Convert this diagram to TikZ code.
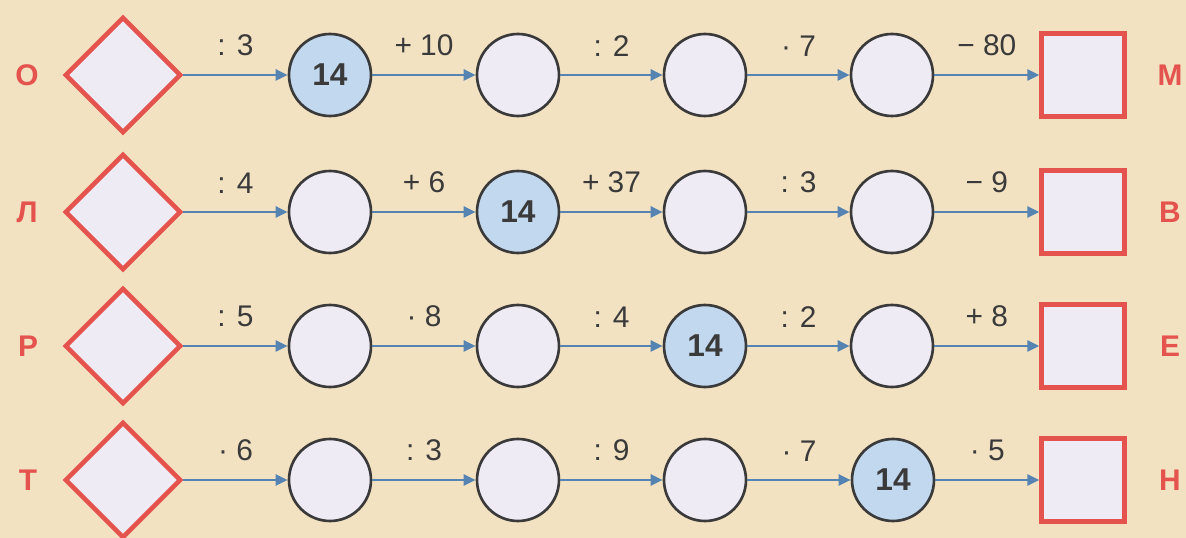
\documentclass[tikz,border=0pt]{standalone}
\usepackage{fontspec}
\setmainfont{Liberation Sans}
\usepackage{xcolor}
\definecolor{cBack}{HTML}{F3E2C2}
\definecolor{cRed}{HTML}{E5534E}
\definecolor{cLine}{HTML}{5584B3}
\definecolor{cRing}{HTML}{3A3A3A}
\definecolor{cFill}{HTML}{EEEBF4}
\definecolor{cGiven}{HTML}{C2D8EE}
\definecolor{cText}{HTML}{3A3A3A}
\usepackage{tikz}
\usetikzlibrary{arrows.meta,shapes.geometric}
\tikzset{
  node-rhomb/.style={diamond,draw=cRed,line width=2.6pt,fill=cFill,
    inner sep=0pt,minimum width=23.2mm,minimum height=23.2mm},
  node-ring/.style={circle,draw=cRing,line width=1.5pt,fill=cFill,
    minimum size=16.4mm,inner sep=0pt,text=cText,
    font=\bfseries\fontsize{18}{18}\selectfont},
  node-given/.style={node-ring,fill=cGiven},
  node-box/.style={rectangle,draw=cRed,line width=2.4pt,fill=cFill,
    minimum size=16.6mm,inner sep=0pt},
  node-letter/.style={text=cRed,font=\bfseries\fontsize{17}{17}\selectfont},
  arrow/.style={-{Triangle[length=2.4mm,width=2.2mm]},line width=1.5pt,draw=cLine},
  op/.style={above=3.5mm,text=cText,inner sep=0pt,
    font=\fontsize{17}{17}\selectfont},
}

\begin{document}
\begin{tikzpicture}[x=0.2mm,y=-0.2mm]
  \fill[cBack] (0,0) rectangle (1186,538);
  \useasboundingbox (0,0) rectangle (1186,538);

  % row 1
  \node[node-letter] (o) at (27,75) {О};
  \node[node-rhomb] (d1) at (123,75) {};
  \node[node-given] (a1) at (330,75) {14};
  \node[node-ring] (b1) at (518,75) {};
  \node[node-ring] (c1) at (705,75) {};
  \node[node-ring] (e1) at (892,75) {};
  \node[node-box] (s1) at (1083,75) {};
  \node[node-letter] (m) at (1170,75) {М};
  \draw[arrow] (d1) -- node[op] {: 3} (a1);
  \draw[arrow] (a1) -- node[op] {+ 10} (b1);
  \draw[arrow] (b1) -- node[op] {: 2} (c1);
  \draw[arrow] (c1) -- node[op] {· 7} (e1);
  \draw[arrow] (e1) -- node[op] {− 80} (s1);

  % row 2
  \node[node-letter] (l) at (27,212) {Л};
  \node[node-rhomb] (d2) at (123,212) {};
  \node[node-ring] (a2) at (330,212) {};
  \node[node-given] (b2) at (518,212) {14};
  \node[node-ring] (c2) at (705,212) {};
  \node[node-ring] (e2) at (892,212) {};
  \node[node-box] (s2) at (1083,212) {};
  \node[node-letter] (v) at (1170,212) {В};
  \draw[arrow] (d2) -- node[op] {: 4} (a2);
  \draw[arrow] (a2) -- node[op] {+ 6} (b2);
  \draw[arrow] (b2) -- node[op] {+ 37} (c2);
  \draw[arrow] (c2) -- node[op] {: 3} (e2);
  \draw[arrow] (e2) -- node[op] {− 9} (s2);

  % row 3
  \node[node-letter] (r) at (28,346) {Р};
  \node[node-rhomb] (d3) at (123,346) {};
  \node[node-ring] (a3) at (330,346) {};
  \node[node-ring] (b3) at (518,346) {};
  \node[node-given] (c3) at (705,346) {14};
  \node[node-ring] (e3) at (892,346) {};
  \node[node-box] (s3) at (1083,346) {};
  \node[node-letter] (ye) at (1170,346) {Е};
  \draw[arrow] (d3) -- node[op] {: 5} (a3);
  \draw[arrow] (a3) -- node[op] {· 8} (b3);
  \draw[arrow] (b3) -- node[op] {: 4} (c3);
  \draw[arrow] (c3) -- node[op] {: 2} (e3);
  \draw[arrow] (e3) -- node[op] {+ 8} (s3);

  % row 4
  \node[node-letter] (t) at (28,480) {Т};
  \node[node-rhomb] (d4) at (123,480) {};
  \node[node-ring] (a4) at (330,480) {};
  \node[node-ring] (b4) at (518,480) {};
  \node[node-ring] (c4) at (705,480) {};
  \node[node-given] (e4) at (893,480) {14};
  \node[node-box] (s4) at (1083,480) {};
  \node[node-letter] (n) at (1170,480) {Н};
  \draw[arrow] (d4) -- node[op] {· 6} (a4);
  \draw[arrow] (a4) -- node[op] {: 3} (b4);
  \draw[arrow] (b4) -- node[op] {: 9} (c4);
  \draw[arrow] (c4) -- node[op] {· 7} (e4);
  \draw[arrow] (e4) -- node[op] {· 5} (s4);
\end{tikzpicture}
\end{document}
